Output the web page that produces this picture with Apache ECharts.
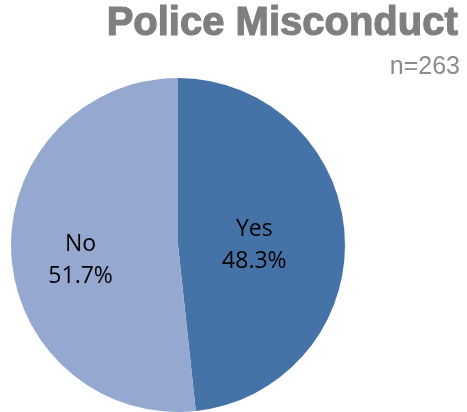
<!DOCTYPE html>
<html><head><meta charset="utf-8">
<script src="https://cdn.jsdelivr.net/npm/echarts@6/dist/echarts.min.js"></script>
<style>html,body{margin:0;padding:0;background:#fff}#c{width:467px;height:412px}</style>
</head><body><div id="c"></div>
<script>
const categories = ['Yes', 'No'];
const values = [48.3, 51.7];
const titleText = 'Police Misconduct';
const subtitleText = 'n=263';

const colors = ['#4673a7', '#95a9d0'];
const offsets = [[-10, 5], [-11, 11]];
const chart = echarts.init(document.getElementById('c'), null, {renderer: 'canvas'});
chart.setOption({
  animation: false,
  title: [{
    text: titleText, right: 3, top: -1,
    textStyle: {fontFamily: 'Liberation Sans', fontWeight: 'bold', fontSize: 40, color: '#7f7f7f',
      textBorderColor: '#7f7f7f', textBorderWidth: 1.2}
  }, {
    text: subtitleText, right: 2, top: 50,
    textStyle: {fontFamily: 'Liberation Sans', fontWeight: 'normal', fontSize: 25, color: '#8c8c8c'}
  }],
  series: [{
    type: 'pie', center: [178, 245], radius: 167, startAngle: 90, clockwise: true,
    avoidLabelOverlap: false,
    label: {
      position: 'inside', fontFamily: 'Open Sans', fontSize: 23, color: '#000', lineHeight: 32,
      formatter: p => p.name + '\n' + p.value.toFixed(1) + '%'
    },
    labelLine: {show: false},
    itemStyle: {borderWidth: 0},
    emphasis: {disabled: true},
    data: categories.map((c, i) => ({name: c, value: values[i], itemStyle: {color: colors[i]}, label: {offset: offsets[i]}}))
  }]
});
</script></body></html>
